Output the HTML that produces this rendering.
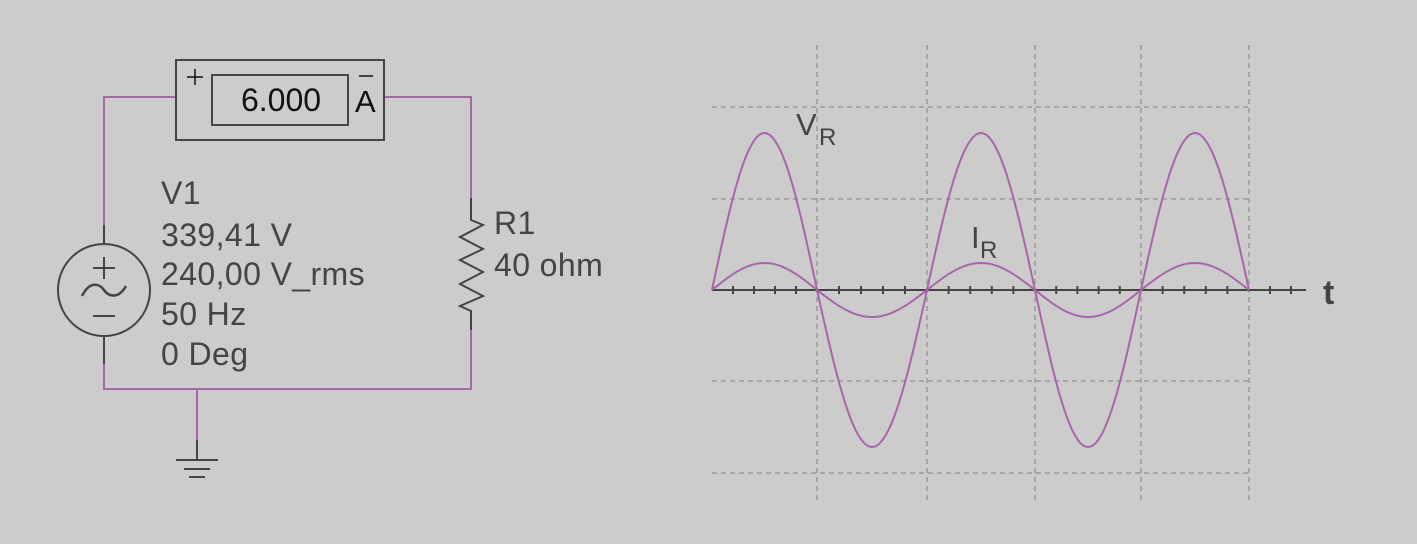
<!DOCTYPE html>
<html><head><meta charset="utf-8">
<style>html,body{margin:0;padding:0;background:#cccccc;}svg{display:block;}text{font-family:"Liberation Sans",sans-serif;fill:#444;}</style>
</head><body>
<svg id="s" width="1417" height="544" xmlns="http://www.w3.org/2000/svg">
<rect width="1417" height="544" fill="#cccccc"/>
<g stroke="#a866aa" stroke-width="2" fill="none">
<polyline points="104,225 104,97 176,97"/>
<polyline points="384,97 471,97 471,198"/>
<polyline points="104,364 104,389 471,389 471,330"/>
<line x1="197" y1="389" x2="197" y2="440"/>
</g>
<g stroke="#444" stroke-width="2" fill="none">
<line x1="104" y1="225" x2="104" y2="244"/>
<line x1="104" y1="336" x2="104" y2="364"/>
<circle cx="104" cy="290" r="46"/>
<line x1="93" y1="268" x2="115" y2="268"/><line x1="104" y1="257" x2="104" y2="279"/>
<line x1="93" y1="316" x2="115" y2="316"/>
<path d="M82,296 C90,280 100,284 104,290 C108,296 118,300 126,286" stroke-width="2.5"/>
<polyline points="471,198 471,220 483,225 460,237 483,249 460,260 483,272 460,284 483,296 460,306 471,311 471,330"/>
<line x1="197" y1="440" x2="197" y2="460"/>
<line x1="176" y1="460" x2="218" y2="460"/>
<line x1="184" y1="469" x2="210" y2="469"/>
<line x1="189" y1="477" x2="205" y2="477"/>
<rect x="176" y="60" width="208" height="80"/>
<rect x="212" y="75" width="136" height="50"/>
</g>
<g stroke="#111" stroke-width="1.5">
<line x1="187" y1="77" x2="203" y2="77"/><line x1="195" y1="69" x2="195" y2="85"/>
<line x1="359" y1="76" x2="373" y2="76"/>
</g>
<text x="281" y="111" font-size="32" text-anchor="middle" style="fill:#111">6.000</text>
<text x="355" y="112" font-size="31" style="fill:#111">A</text>
<g font-size="32" letter-spacing="0.4">
<text x="161" y="204">V1</text>
<text x="161" y="246">339,41 V</text>
<text x="161" y="285">240,00 V_rms</text>
<text x="161" y="325">50 Hz</text>
<text x="161" y="365">0 Deg</text>
<text x="494" y="234">R1</text>
<text x="494" y="276">40 ohm</text>
</g>
<g stroke="#999" stroke-width="1.5" stroke-dasharray="5,4" fill="none">
<line x1="712" y1="107" x2="1249" y2="107"/>
<line x1="712" y1="199" x2="1249" y2="199"/>
<line x1="712" y1="381" x2="1249" y2="381"/>
<line x1="712" y1="473" x2="1249" y2="473"/>
<line x1="817" y1="45" x2="817" y2="500"/>
<line x1="927" y1="45" x2="927" y2="500"/>
<line x1="1035" y1="45" x2="1035" y2="500"/>
<line x1="1141" y1="45" x2="1141" y2="500"/>
<line x1="1249" y1="45" x2="1249" y2="500"/>
</g>
<line x1="712" y1="290" x2="1306" y2="290" stroke="#444" stroke-width="2"/>
<g id="ticks" stroke="#444" stroke-width="2"></g>
<path id="vw" stroke="#a866aa" stroke-width="2" fill="none"/>
<path id="iw" stroke="#a866aa" stroke-width="2" fill="none"/>
<text x="796" y="135" font-size="31">V</text><text x="819" y="145" font-size="24">R</text>
<text x="971" y="248" font-size="31">I</text><text x="980" y="258" font-size="24">R</text>
<text x="1323" y="304" font-size="34" font-weight="bold" style="fill:#444">t</text>
</svg>
<script>
var z=[712,817,927,1035,1141,1249];
function wave(A){var d="M712,290";for(var k=0;k<5;k++){var x0=z[k],x1=z[k+1],s=(k%2==0)?-1:1;for(var i=1;i<=40;i++){var t=i/40;d+=" L"+(x0+(x1-x0)*t).toFixed(1)+","+(290+s*A*Math.sin(Math.PI*t)).toFixed(1);}}return d;}
document.getElementById('vw').setAttribute('d',wave(157));
document.getElementById('iw').setAttribute('d',wave(27));
var g=document.getElementById('ticks'),h="";
for(var k=0;k<5;k++){for(var j=1;j<5;j++){var x=z[k]+(z[k+1]-z[k])*j/5;h+='<line x1="'+x+'" y1="286" x2="'+x+'" y2="294"/>';}}
[1270,1291].forEach(function(x){h+='<line x1="'+x+'" y1="286" x2="'+x+'" y2="294"/>';});
g.innerHTML=h;
</script>
</body></html>
